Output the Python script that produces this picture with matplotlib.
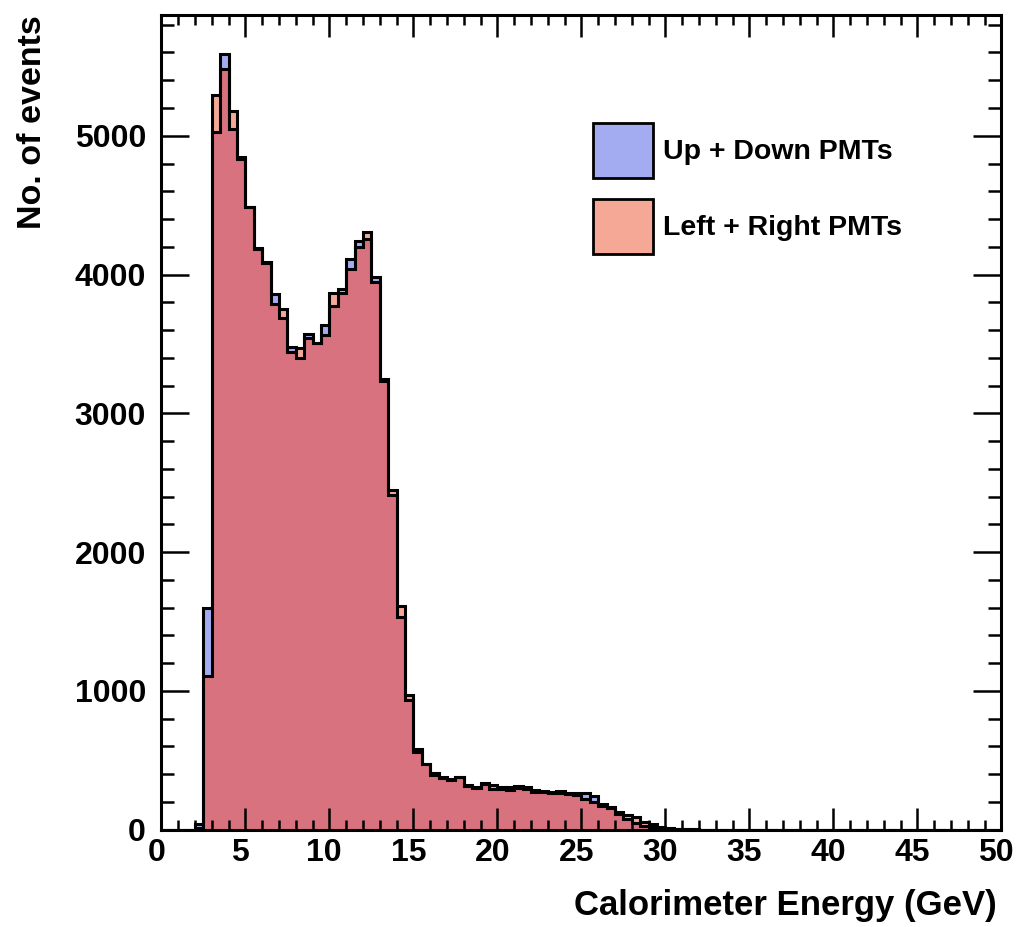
import numpy as np
import matplotlib
matplotlib.use('Agg')
import matplotlib.pyplot as plt
import matplotlib.transforms as mtransforms
from matplotlib.patches import Rectangle
from matplotlib.ticker import MultipleLocator

plt.rcParams['font.family'] = ['Liberation Sans', 'DejaVu Sans']
plt.rcParams['font.weight'] = 'bold'

# histogram binning: 0.5 GeV bins from 0 to 50 GeV, filled bins start at 2.0 GeV
bin_width = 0.5
first_bin = 2.0
# counts per bin, Up + Down PMTs
up_down = [40, 1600, 5030, 5590, 5050, 4850, 4490, 4190, 4090, 3860,
           3690, 3480, 3400, 3570, 3510, 3640, 3775, 3870, 4110, 4240,
           4255, 3980, 3230, 2415, 1530, 935, 580, 475, 410, 378,
           355, 382, 322, 305, 334, 290, 305, 285, 314, 305,
           286, 281, 269, 265, 264, 262, 262, 245, 183, 166,
           113, 75, 50, 30, 22, 10, 8, 5, 3, 1]
# counts per bin, Left + Right PMTs
left_right = [15, 1110, 5290, 5480, 5180, 4830, 4490, 4185, 4085, 3790,
              3750, 3445, 3470, 3540, 3505, 3565, 3865, 3895, 4040, 4200,
              4305, 3945, 3250, 2445, 1610, 970, 560, 470, 392, 370,
              368, 378, 318, 300, 328, 320, 290, 305, 300, 295,
              275, 270, 265, 280, 254, 250, 220, 200, 168, 155,
              130, 105, 90, 55, 39, 20, 14, 8, 5, 2]

edges = np.arange(0, 50 + bin_width / 2, bin_width)
nb = len(edges) - 1
i0 = int(round(first_bin / bin_width))
ud = np.zeros(nb)
lr = np.zeros(nb)
ud[i0:i0 + len(up_down)] = up_down
lr[i0:i0 + len(left_right)] = left_right

c_blue = '#a3acf0'
c_red = '#f5a896'
c_both = '#d8727e'

W, H = 1017, 927
fig = plt.figure(figsize=(W / 100, H / 100), dpi=100)
ax = fig.add_axes([161.3 / W, 1 - 829.7 / H, (1001.3 - 161.3) / W, (829.7 - 15) / H])

ax.stairs(ud, edges, fill=True, color=c_blue, lw=0)
ax.stairs(lr, edges, fill=True, color=c_red, lw=0)
ax.stairs(np.minimum(ud, lr), edges, fill=True, color=c_both, lw=0)
ax.stairs(ud, edges, color='black', lw=2.2, baseline=0)
ax.stairs(lr, edges, color='black', lw=2.2, baseline=0)

ax.set_xlim(0, 50)
ax.set_ylim(0, 5870)
ax.xaxis.set_major_locator(MultipleLocator(5))
ax.xaxis.set_minor_locator(MultipleLocator(1))
ax.yaxis.set_major_locator(MultipleLocator(1000))
ax.yaxis.set_minor_locator(MultipleLocator(200))

for s in ax.spines.values():
    s.set_linewidth(2.2)
ax.tick_params(axis='both', which='both', direction='in', top=True, right=True,
               width=1.8, labelsize=23)
ax.tick_params(axis='x', which='major', length=16, pad=6)
ax.tick_params(axis='x', which='minor', length=7.5)
ax.tick_params(axis='y', which='major', length=20, pad=11)
ax.tick_params(axis='y', which='minor', length=9.5)

# ROOT puts the x labels a little left of the ticks
shift = mtransforms.ScaledTranslation(-5 / 100, 0, fig.dpi_scale_trans)
for lab in ax.get_xticklabels():
    lab.set_transform(lab.get_transform() + shift)
    lab.set_fontweight('bold')
for lab in ax.get_yticklabels():
    lab.set_fontweight('bold')

fig.text(997 / W, 1 - 905 / H, 'Calorimeter Energy (GeV)', ha='right', va='center',
         fontsize=25, fontweight='bold')
fig.text(33 / W, 1 - 15 / H, 'No. of events', ha='center', va='top', rotation=90,
         fontsize=24.5, fontweight='bold')

# legend
labels = ['Up + Down PMTs', 'Left + Right PMTs']
colors = [c_blue, c_red]
box_tops = [123, 199]
for lab, col, yt in zip(labels, colors, box_tops):
    fig.add_artist(Rectangle((593 / W, 1 - (yt + 55) / H), 60 / W, 55 / H,
                             transform=fig.transFigure, facecolor=col,
                             edgecolor='black', lw=2))
    fig.text(663 / W, 1 - (yt + 29) / H, lab, ha='left', va='center',
             fontsize=20.5, fontweight='bold')

fig.savefig('out.png', dpi=100)
